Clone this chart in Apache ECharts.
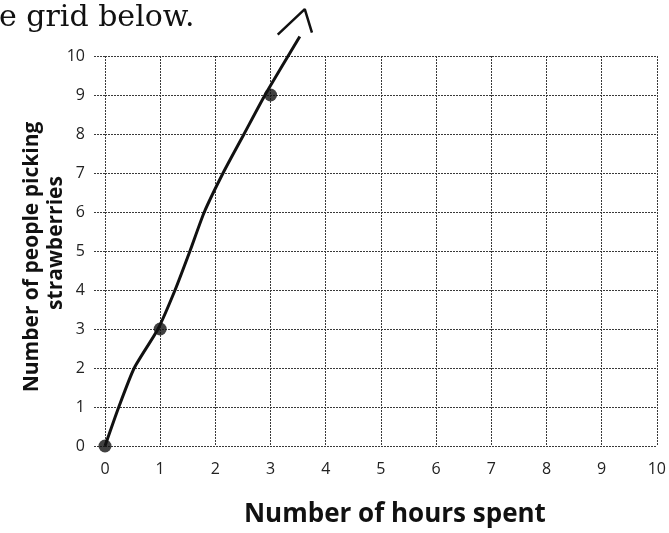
<!DOCTYPE html>
<html>
<head>
<meta charset="utf-8">
<script src="https://cdn.jsdelivr.net/npm/echarts@6/dist/echarts.min.js"></script>
<style>
  html, body { margin: 0; padding: 0; background: #fff; }
  #chart { width: 669px; height: 533px; }
</style>
</head>
<body>
<div id="chart"></div>
<script>
  // plotted points (hours, people)
  var hours = [0, 1, 3]
  var people = [0, 3, 9]
  // hand drawn line through the points
  var lineX = [0, 0.25, 0.53, 0.96, 1.27, 1.54, 1.8, 2.14, 2.52, 2.9, 3.53]
  var lineY = [0, 1, 2, 3, 4, 5, 6, 7, 8, 9, 10.5]
  // little arrow head drawn above the line
  var arrowX = [3.13, 3.62, 3.75]
  var arrowY = [10.55, 11.2, 10.6]
  var xTicks = [0, 1, 2, 3, 4, 5, 6, 7, 8, 9, 10]
  var yTicks = [0, 1, 2, 3, 4, 5, 6, 7, 8, 9, 10]

  function pairs(xs, ys) {
    var out = []
    for (var i = 0; i < xs.length; i++) {
      out.push([xs[i], ys[i]])
    }
    return out
  }

  var gridLine = {
    show: true,
    lineStyle: { color: '#3a3a3a', width: 1, type: [2, 1] }
  }

  var myChart = echarts.init(document.getElementById('chart'))
  var option = {
    backgroundColor: '#fff',
    animation: false,
    grid: { left: 105, right: 12, top: 56, bottom: 83 },
    xAxis: {
      type: 'value',
      min: xTicks[0],
      max: xTicks[xTicks.length - 1],
      interval: 1,
      axisLine: { show: false },
      axisTick: { show: false },
      splitLine: gridLine,
      axisLabel: {
        margin: 15,
        fontFamily: 'Open Sans',
        fontSize: 16,
        color: '#222'
      },
      name: 'Number of hours spent',
      nameLocation: 'middle',
      nameGap: 56,
      nameTextStyle: {
        fontFamily: 'Open Sans',
        fontWeight: 'bold',
        fontSize: 26,
        color: '#111',
        padding: [0, 0, 0, 28]
      }
    },
    yAxis: {
      type: 'value',
      min: yTicks[0],
      max: yTicks[yTicks.length - 1],
      interval: 1,
      axisLine: { show: false },
      axisTick: {
        show: true,
        length: 11,
        lineStyle: { color: '#3a3a3a', width: 1, type: [2, 1] }
      },
      splitLine: gridLine,
      axisLabel: {
        margin: 20,
        fontFamily: 'Open Sans',
        fontSize: 16,
        color: '#222'
      }
    },
    graphic: [
      {
        type: 'text',
        left: -1,
        top: 3,
        style: {
          text: 'e grid below.',
          fontFamily: 'DejaVu Serif',
          fontSize: 30,
          fill: '#111'
        }
      },
      {
        type: 'text',
        x: 32,
        y: 257,
        rotation: Math.PI / 2,
        style: {
          text: 'Number of people picking',
          fontFamily: 'Open Sans',
          fontWeight: 'bold',
          fontSize: 21,
          fill: '#111',
          align: 'center',
          verticalAlign: 'middle'
        }
      },
      {
        type: 'text',
        x: 56,
        y: 243,
        rotation: Math.PI / 2,
        style: {
          text: 'strawberries',
          fontFamily: 'Open Sans',
          fontWeight: 'bold',
          fontSize: 21,
          fill: '#111',
          align: 'center',
          verticalAlign: 'middle'
        }
      }
    ],
    series: [
      {
        type: 'line',
        data: pairs(lineX, lineY),
        clip: false,
        smooth: 0.2,
        showSymbol: false,
        lineStyle: { color: '#111', width: 3 },
        z: 3
      },
      {
        type: 'line',
        data: pairs(arrowX, arrowY),
        clip: false,
        smooth: false,
        showSymbol: false,
        lineStyle: { color: '#111', width: 2.5 },
        z: 3
      },
      {
        type: 'scatter',
        data: pairs(hours, people),
        clip: false,
        symbol: 'circle',
        symbolSize: 13,
        itemStyle: { color: '#111' },
        z: 4
      }
    ]
  }
  myChart.setOption(option)
</script>
</body>
</html>
